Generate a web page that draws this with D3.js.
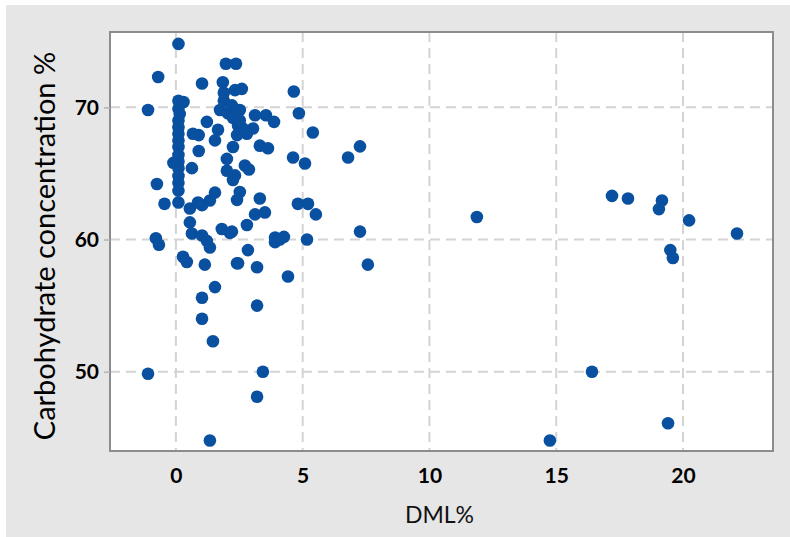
<!DOCTYPE html>
<html>
<head>
<meta charset="utf-8">
<script src="https://cdn.jsdelivr.net/npm/d3@7"></script>
<style>
  body { margin: 0; background: #fff; }
  svg { display: block; }
</style>
</head>
<body>
<div id="chart"></div>
<script>
// DML% values (x) for each sample
const dml = [
  0.1, -0.7, -1.1, 0.1, 0.3, 0.1, 0.15, 0.1, 0.1, 0.1,
  0.1, 0.1, 0.1, -0.1, 0.1, 0.1, 0.1, 0.1, -0.75, -0.45,
  0.1, 0.63, 0.67, 0.9, 0.9, 0.55, 0.87, 1.03, 1.34, 1.54,
  0.55, 0.63, 1.03, 1.22, 1.34, -0.79, -0.67, 0.28, 0.43, 1.14,
  1.81, 2.13, 2.41, 1.54, 1.03, 1.03, 1.46, -1.1, 3.43, 3.2,
  1.34, 3.2, 1.97, 2.37, 1.03, 1.85, 1.89, 2.33, 2.6, 4.65,
  4.85, 1.22, 1.74, 2.05, 2.25, 2.45, 1.89, 3.12, 3.55, 3.87,
  5.4, 3.04, 2.8, 1.66, 1.54, 2.41, 2.25, 3.31, 3.63, 4.62,
  5.09, 2.01, 2.01, 2.33, 2.72, 2.88, 2.25, 2.52, 2.41, 3.31,
  4.81, 5.21, 5.52, 3.12, 3.51, 2.8, 2.21, 3.91, 4.1, 4.26,
  3.91, 5.17, 2.84, 2.45, 3.2, 4.42, 7.26, 6.79, 7.26, 7.57,
  11.87, 17.2, 17.83, 19.17, 19.05, 20.24, 22.13, 19.5, 19.6, 16.41,
  19.41, 14.75, 2.52, 2.64, 2.21, 2.52, 0.1
];

// Carbohydrate concentration % (y) for each sample
const carb = [
  74.8, 72.3, 69.8, 70.5, 70.4, 69.9, 69.5, 69.0, 68.5, 68.0,
  67.5, 67.0, 66.4, 65.8, 65.9, 65.4, 64.8, 64.3, 64.2, 62.7,
  62.8, 65.4, 68.0, 67.9, 66.7, 62.35, 62.8, 62.6, 62.95, 63.55,
  61.3, 60.45, 60.3, 59.9, 59.4, 60.1, 59.6, 58.7, 58.3, 58.1,
  60.8, 60.5, 58.2, 56.4, 55.6, 54.0, 52.3, 49.85, 50.0, 48.1,
  44.8, 55.0, 73.3, 73.3, 71.8, 71.9, 71.1, 71.3, 71.4, 71.2,
  69.55, 68.9, 69.8, 69.55, 69.2, 68.6, 70.5, 69.4, 69.4, 68.9,
  68.1, 68.4, 68.0, 68.3, 67.5, 67.9, 67.0, 67.1, 66.9, 66.2,
  65.75, 66.1, 65.2, 64.85, 65.6, 65.3, 64.5, 63.6, 63.0, 63.1,
  62.7, 62.7, 61.9, 61.9, 62.05, 61.1, 60.6, 60.15, 60.0, 60.2,
  59.8, 60.0, 59.2, 58.2, 57.9, 57.2, 67.05, 66.2, 60.6, 58.1,
  61.7, 63.3, 63.1, 62.95, 62.3, 61.45, 60.45, 59.2, 58.6, 50.0,
  46.1, 44.8, 69.8, 68.4, 70.15, 69.0, 63.7
];

const xTicks = [0, 5, 10, 15, 20];
const yTicks = [50, 60, 70];

const width = 790, height = 537;
const plot = { left: 110, right: 773, top: 32, bottom: 451 };

const svg = d3.select('#chart').append('svg')
    .attr('width', width)
    .attr('height', height);

// grey panel behind everything
svg.append('rect')
    .attr('x', 6).attr('y', 5)
    .attr('width', width - 6).attr('height', height - 5)
    .attr('fill', '#e6e6e6');

let x = d3.scaleLinear().domain([-2.6, 23.55]).range([plot.left, plot.right]);
let y = d3.scaleLinear().domain([44.0, 75.7]).range([plot.bottom, plot.top]);

svg.append('rect')
    .attr('x', plot.left).attr('y', plot.top)
    .attr('width', plot.right - plot.left)
    .attr('height', plot.bottom - plot.top)
    .attr('fill', '#fff');

// dashed grid
let grid = svg.append('g').attr('stroke', '#d4d4d4')
    .attr('stroke-width', 2).attr('stroke-dasharray', '10,6');
grid.selectAll('.gx').data(xTicks).enter().append('line')
    .attr('x1', d => x(d)).attr('x2', d => x(d))
    .attr('y1', plot.top).attr('y2', plot.bottom);
grid.selectAll('.gy').data(yTicks).enter().append('line')
    .attr('x1', plot.left).attr('x2', plot.right)
    .attr('y1', d => y(d)).attr('y2', d => y(d));

// points
svg.append('g').selectAll('circle')
    .data(d3.zip(dml, carb))
    .enter().append('circle')
    .attr('cx', d => x(d[0]))
    .attr('cy', d => y(d[1]))
    .attr('r', 6.3)
    .attr('fill', '#0a50a0');

// frame
svg.append('rect')
    .attr('x', plot.left).attr('y', plot.top)
    .attr('width', plot.right - plot.left)
    .attr('height', plot.bottom - plot.top)
    .attr('fill', 'none')
    .attr('stroke', '#8c8c8c')
    .attr('stroke-width', 2);

// axes
let xAxis = svg.append('g')
    .attr('transform', 'translate(0,' + plot.bottom + ')')
    .call(d3.axisBottom(x).tickValues(xTicks).tickSize(0).tickPadding(17));
let yAxis = svg.append('g')
    .attr('transform', 'translate(' + plot.left + ',0)')
    .call(d3.axisLeft(y).tickValues(yTicks).tickSize(6).tickPadding(5));

[xAxis, yAxis].forEach(a => {
    a.select('.domain').remove();
    a.selectAll('line').attr('stroke', '#b4b4b4').attr('stroke-width', 1.5);
    a.selectAll('text')
        .attr('fill', '#000')
        .style('font-family', 'Lato, sans-serif')
        .style('font-weight', 'bold')
        .style('font-size', '21px');
});

svg.append('text')
    .attr('x', (plot.left + plot.right) / 2 - 2)
    .attr('y', 523)
    .attr('text-anchor', 'middle')
    .style('font-family', 'Lato, sans-serif')
    .style('font-size', '23px')
    .attr('fill', '#111')
    .text('DML%');

svg.append('text')
    .attr('transform', 'translate(55,246) rotate(-90)')
    .attr('text-anchor', 'middle')
    .style('font-family', 'Lato, sans-serif')
    .style('font-size', '29px')
    .attr('fill', '#000')
    .text('Carbohydrate concentration %');
</script>
</body>
</html>
